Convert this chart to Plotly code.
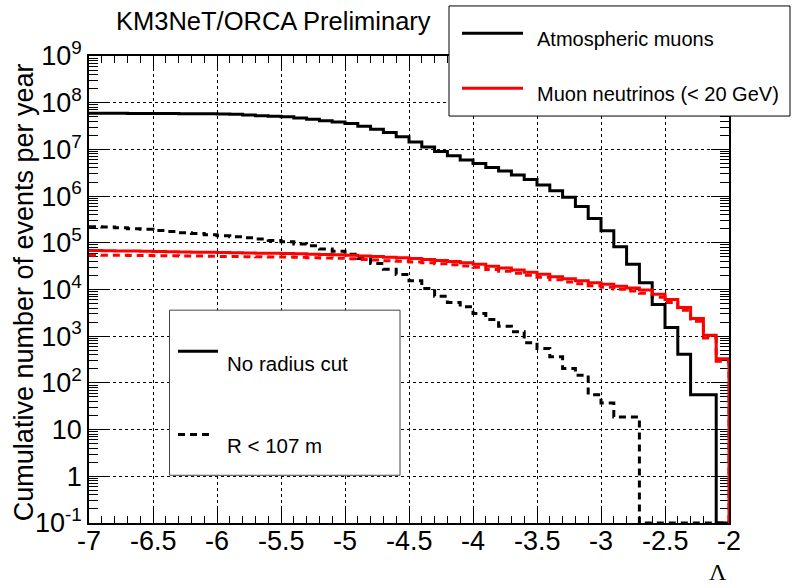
import numpy as np
import plotly.graph_objects as go

# ---------------- data ----------------
X_MIN, X_MAX, N_BINS = -7.0, -2.0, 50
Y_FLOOR = 0.1  # axis minimum; empty bins are drawn on it (as ROOT does)

# Atmospheric muons, no radius cut (cumulative events / year)
muon_all = [5.95e7, 5.93e7, 5.92e7, 5.90e7, 5.88e7, 5.86e7, 5.84e7, 5.82e7, 5.80e7, 5.77e7,
            5.72e7, 5.63e7, 5.45e7, 5.26e7, 5.15e7, 5.00e7, 4.70e7, 4.40e7, 4.11e7, 3.85e7,
            3.58e7, 3.13e7, 2.69e7, 2.30e7, 1.86e7, 1.44e7, 1.12e7, 9.0e6, 7.3e6, 5.9e6,
            4.98e6, 4.08e6, 3.44e6, 2.82e6, 2.28e6, 1.72e6, 1.30e6, 9.4e5, 5.96e5, 3.33e5,
            1.81e5, 8.2e4, 3.49e4, 1.39e4, 4.79e3, 1.54e3, 412, 56, 56, 0]
# Atmospheric muons, R < 107 m
muon_r107 = [2.20e5, 2.17e5, 2.09e5, 2.00e5, 1.94e5, 1.84e5, 1.75e5, 1.64e5, 1.59e5, 1.48e5,
             1.41e5, 1.34e5, 1.28e5, 1.20e5, 1.12e5, 1.05e5, 9.4e4, 8.6e4, 7.4e4, 6.6e4,
             5.7e4, 4.6e4, 3.6e4, 2.73e4, 2.10e4, 1.53e4, 1.05e4, 7.2e3, 5.3e3, 4.25e3,
             3.07e3, 2.28e3, 1.64e3, 1.24e3, 727, 546, 361, 204, 146, 56,
             37, 18.7, 18.7, 0, 0, 0, 0, 0, 0, 0]
# Muon neutrinos (< 20 GeV), no radius cut
nu_all = [68000, 67300, 67000, 66400, 65700, 65000, 64400, 63800, 63100, 62500,
          61900, 61200, 60700, 60100, 59500, 58900, 58100, 57200, 56400, 55300,
          54000, 52400, 50800, 49300, 47700, 46000, 44000, 41900, 39700, 37400,
          34900, 31300, 28700, 26000, 23500, 21300, 18800, 16900, 15300, 14000,
          13000, 11800, 10800, 9700, 7900, 6100, 4100, 2400, 1050, 330]
# Muon neutrinos (< 20 GeV), R < 107 m
nu_r107 = [54400, 54000, 53900, 53700, 53300, 52900, 52600, 52300, 51900, 51500,
           51200, 50800, 50500, 50200, 49900, 49500, 48800, 48000, 47400, 46500,
           45400, 44000, 42700, 41400, 40100, 38900, 37400, 35600, 33900, 32000,
           30000, 26900, 24700, 22400, 20200, 18300, 16200, 14500, 13200, 12000,
           11200, 10100, 9300, 8300, 6800, 5300, 3600, 2100, 920, 290]

X_TICKS = [-7, -6.5, -6, -5.5, -5, -4.5, -4, -3.5, -3, -2.5, -2]
X_TICK_TEXT = ["-7", "-6.5", "-6", "-5.5", "-5", "-4.5", "-4", "-3.5", "-3", "-2.5", "-2"]
Y_TICKS = [1e-1, 1, 10, 1e2, 1e3, 1e4, 1e5, 1e6, 1e7, 1e8, 1e9]
Y_TICK_TEXT = ["10<sup>-1</sup>", "1", "10", "10<sup>2</sup>", "10<sup>3</sup>", "10<sup>4</sup>",
               "10<sup>5</sup>", "10<sup>6</sup>", "10<sup>7</sup>", "10<sup>8</sup>", "10<sup>9</sup>"]

TITLE = "KM3NeT/ORCA Preliminary"
Y_TITLE = "Cumulative number of events per year"
X_TITLE = "Λ"

# ---------------- figure ----------------
edges = np.linspace(X_MIN, X_MAX, N_BINS + 1)
FONT = "Liberation Sans, Arial, Helvetica, sans-serif"


def step_trace(values, color, dash):
    v = np.asarray(values, dtype=float)
    v = np.where(v > 0, v, Y_FLOOR)
    x = list(edges[:-1]) + [edges[-1]]
    y = list(v) + [Y_FLOOR]
    return go.Scatter(x=x, y=y, mode="lines", line_shape="hv",
                      line=dict(color=color, width=3, dash=dash),
                      hoverinfo="skip", showlegend=False)


fig = go.Figure()
DASH = "7px,5px"
fig.add_trace(step_trace(muon_r107, "black", DASH))
fig.add_trace(step_trace(nu_r107, "#ff0000", DASH))
fig.add_trace(step_trace(muon_all, "black", "solid"))
fig.add_trace(step_trace(nu_all, "#ff0000", "solid"))

fig.update_layout(
    width=792, height=588,
    margin=dict(l=89, r=63, t=56, b=65),
    paper_bgcolor="white", plot_bgcolor="white",
    font=dict(family=FONT, color="black", size=27),
    showlegend=False,
)

fig.update_xaxes(
    range=[X_MIN, X_MAX], tickmode="array", tickvals=X_TICKS, ticktext=X_TICK_TEXT,
    showticklabels=False,
    ticks="inside", ticklen=14, tickwidth=1, tickcolor="black",
    minor=dict(dtick=0.1, tick0=X_MIN, ticks="inside", ticklen=7, tickcolor="black", showgrid=False),
    showline=True, linecolor="black", linewidth=1.5, mirror="ticks",
    showgrid=True, gridcolor="black", griddash="dot", gridwidth=1,
    zeroline=False, layer="below traces",
)
fig.update_yaxes(
    type="log", range=[-1, 9], tickmode="array", tickvals=Y_TICKS, ticktext=Y_TICK_TEXT,
    ticks="inside", ticklen=18, tickwidth=1, tickcolor="black",
    minor=dict(dtick="D1", ticks="inside", ticklen=9, tickcolor="black", showgrid=False),
    showline=True, linecolor="black", linewidth=1.5, mirror="ticks",
    showgrid=True, gridcolor="black", griddash="dot", gridwidth=1,
    zeroline=False, layer="below traces",
    tickfont=dict(size=27, family=FONT, color="black"),
)


# helpers to convert reference pixel positions to paper coordinates
PL, PR, PT, PB = 89, 729, 56, 522.7


def px(xp):
    return (xp - PL) / (PR - PL)


def py(yp):
    return (PB - yp) / (PB - PT)


shapes = []
annotations = []

# x tick labels (placed on the data axis, closer to the frame as in ROOT)
for tv, tt in zip(X_TICKS, X_TICK_TEXT):
    annotations.append(dict(text=tt, xref="x", yref="paper", x=tv, y=py(541),
                            xanchor="center", yanchor="middle", showarrow=False,
                            font=dict(size=27, family=FONT, color="black")))

# top-right legend box
shapes.append(dict(type="rect", xref="paper", yref="paper", x0=px(449), x1=px(790),
                   y0=py(116), y1=py(6), fillcolor="white", line=dict(color="black", width=1),
                   layer="above"))
shapes.append(dict(type="line", xref="paper", yref="paper", x0=px(462), x1=px(523),
                   y0=py(33.3), y1=py(33.3), line=dict(color="black", width=3), layer="above"))
shapes.append(dict(type="line", xref="paper", yref="paper", x0=px(462), x1=px(523),
                   y0=py(88.3), y1=py(88.3), line=dict(color="#ff0000", width=3), layer="above"))
annotations.append(dict(text="Atmospheric muons", xref="paper", yref="paper", x=px(535), y=py(39),
                        xanchor="left", yanchor="middle", showarrow=False,
                        font=dict(size=20, family=FONT, color="black")))
annotations.append(dict(text="Muon neutrinos (< 20 GeV)", xref="paper", yref="paper", x=px(535),
                        y=py(93.5), xanchor="left", yanchor="middle", showarrow=False,
                        font=dict(size=20, family=FONT, color="black")))

# bottom-left legend box
shapes.append(dict(type="rect", xref="paper", yref="paper", x0=px(169.5), x1=px(400),
                   y0=py(475), y1=py(310), fillcolor="white", line=dict(color="#444444", width=1),
                   layer="above"))
shapes.append(dict(type="line", xref="paper", yref="paper", x0=px(178), x1=px(218),
                   y0=py(351), y1=py(351), line=dict(color="black", width=3), layer="above"))
shapes.append(dict(type="line", xref="paper", yref="paper", x0=px(178), x1=px(214),
                   y0=py(434.3), y1=py(434.3), line=dict(color="black", width=3, dash=DASH),
                   layer="above"))
annotations.append(dict(text="No radius cut", xref="paper", yref="paper", x=px(225), y=py(363),
                        xanchor="left", yanchor="middle", showarrow=False,
                        font=dict(size=20.5, family=FONT, color="black")))
annotations.append(dict(text="R < 107 m", xref="paper", yref="paper", x=px(225), y=py(445),
                        xanchor="left", yanchor="middle", showarrow=False,
                        font=dict(size=20.5, family=FONT, color="black")))

# title, axis titles
annotations.append(dict(text=TITLE, xref="paper", yref="paper", x=px(114), y=py(21.5),
                        xanchor="left", yanchor="middle", showarrow=False,
                        font=dict(size=25.5, family=FONT, color="black")))
annotations.append(dict(text=Y_TITLE, xref="paper", yref="paper", x=px(24), y=py(292),
                        xanchor="center", yanchor="middle", textangle=-90, showarrow=False,
                        font=dict(size=27, family=FONT, color="black")))
annotations.append(dict(text=X_TITLE, xref="paper", yref="paper", x=px(729), y=py(572),
                        xanchor="right", yanchor="middle", showarrow=False,
                        font=dict(size=24, family="Liberation Serif, Times New Roman, serif",
                                  color="black")))

fig.update_layout(shapes=shapes, annotations=annotations)
fig.write_html("out.html")
